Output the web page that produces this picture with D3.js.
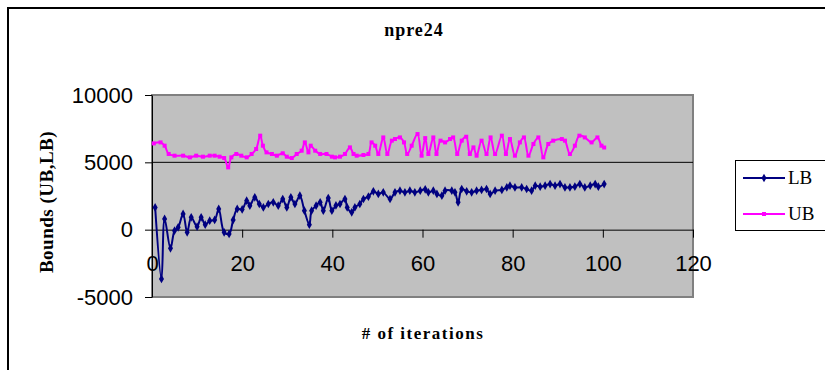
<!DOCTYPE html>
<html><head><meta charset="utf-8">
<script src="https://cdn.jsdelivr.net/npm/d3@7"></script>
<style>html,body{margin:0;padding:0;background:#fff}svg{display:block}</style>
</head><body><svg id="c" width="825" height="370"></svg>
<script>
const titleText = "npre24";
const xTitle = "# of iterations";
const yTitle = "Bounds (UB,LB)";
const xTicks = [0,20,40,60,80,100,120];
const yTicks = [-5000,0,5000,10000];
const seriesNames = ["LB","UB"];
const lbX = [0.7,2.1,2.8,4.1,5.0,5.8,6.9,7.8,8.7,10,10.9,11.8,12.8,13.9,14.8,16,17.1,18,18.9,20,21,21.7,22.8,23.8,24.7,25.8,26.9,28,29,29.9,30.8,31.7,32.8,33.8,34.9,35.4,36.4,37.3,38,39.1,39.9,40.8,41.7,42.8,43.3,44.3,45,46.1,46.9,48,49.1,50.2,51.3,52.8,53.9,55,56.1,57.2,58.3,59.5,60.6,61.3,62.4,63.2,64.3,65,66.5,67.2,67.9,68.7,69.8,70.9,72,73.1,74.2,75,76.1,77.6,78.7,79.4,80.5,82,83.1,84.2,85,86.1,87.2,88.3,89.4,90.5,91.6,92.7,93.8,94.9,96,97.2,98.3,99,100.3];
const lbY = [1655,-3660,794,-1385,-74,171,1165,-200,914,223,914,371,668,720,1536,-200,-320,720,1536,1500,2153,1782,2400,1906,1655,1906,2030,1782,2277,1655,2400,1906,2524,1410,371,1410,1782,2030,1410,2350,1410,1800,1906,2277,1655,1285,1655,1906,2277,2450,2844,2650,2770,2277,2770,2895,2770,2895,2770,2895,3000,2770,2895,2650,2524,2895,2895,2770,2030,3020,2844,2770,2895,2947,3020,2650,2895,2947,3140,3266,3140,3140,3020,2895,3266,3190,3266,3390,3266,3390,3140,3140,3190,3390,3140,3266,3390,3190,3390];
const ubX = [0.4,1.9,2.8,3.7,5.0,6.9,8.4,9.8,11.3,12.8,13.9,15,16,16.9,17.6,18.7,19.8,21,22.1,23.1,24,24.6,25.4,26.6,27.7,29,29.9,31,32.1,33.2,33.9,34.7,35.2,36.2,37.3,38.7,39.9,40.6,41.7,42.8,43.9,44.7,45.4,46.9,48,48.7,49.5,50.2,51.3,52.2,53.2,53.9,55,55.9,56.6,57.6,58.9,59.8,60.6,61.3,62.4,63.1,64,65,66.1,66.8,67.7,68.7,69.7,70.5,71.3,72,73.1,74.2,75.1,76.1,77.6,78.5,79.4,80.5,81.6,82.5,83.5,84.6,85.7,86.8,87.9,89,90.9,91.6,92.7,93.8,94.8,96,97.5,98.8,99.7,100.3];
const ubY = [6407,6481,6236,5620,5494,5494,5370,5494,5420,5494,5494,5420,5320,4625,5370,5620,5494,5370,5620,5990,6980,6236,5740,5620,5494,5670,5420,5320,5620,5865,6480,5740,6236,5865,5620,5620,5420,5370,5420,5620,6110,5620,5494,5545,5620,6480,6236,5620,6850,5620,6610,6730,6850,6480,5620,6236,7100,5494,6800,5620,6850,5620,6610,6480,6730,6850,5620,6610,6900,5620,6110,5494,6610,5620,6850,5620,6980,5620,6730,5494,6480,6850,5494,6360,6850,5370,6360,6610,6730,6610,5620,6236,6980,6850,6480,6850,6236,6100];

const svg = d3.select("#c");
const W = 825, H = 370;
const x = d3.scaleLinear().domain([0,120]).range([152,693]);
const y = d3.scaleLinear().domain([-5000,10000]).range([297,95]);
const serif = "'Liberation Serif','Times New Roman',serif";
const sans = "'Liberation Sans',Arial,sans-serif";

svg.append("rect").attr("width",W).attr("height",H).attr("fill","#fff");
svg.append("path").attr("d",`M8,${H+2}V8H${W+2}`).attr("fill","none").attr("stroke","#000").attr("stroke-width",2);

svg.append("rect").attr("x",x(0)).attr("y",y(10000)).attr("width",x(120)-x(0)).attr("height",y(-5000)-y(10000))
  .attr("fill","#c0c0c0").attr("stroke","#808080").attr("stroke-width",2);

svg.append("g").selectAll("line").data(yTicks.filter(v=>v>-5000 && v<10000 && v!==0)).join("line")
  .attr("x1",x(0)).attr("x2",x(120)).attr("y1",d=>y(d)).attr("y2",d=>y(d)).attr("stroke","#000").attr("stroke-width",1);

const ya = svg.append("g").attr("transform",`translate(${x(0)},0)`)
  .call(d3.axisLeft(y).tickValues(yTicks).tickFormat(d=>String(d)).tickSize(7).tickPadding(12).tickSizeOuter(0));
ya.select(".domain").attr("stroke","#000");
ya.selectAll("text").attr("font-family",sans).attr("font-size",22).attr("fill","#000");

const xa = svg.append("g").attr("transform",`translate(0,${y(0)})`)
  .call(d3.axisBottom(x).tickValues(xTicks).tickFormat(d=>String(d)).tickSize(8).tickPadding(0).tickSizeOuter(0));
xa.select(".domain").attr("stroke","#000");
xa.selectAll("text").attr("font-family",sans).attr("font-size",22).attr("fill","#000").attr("dy","1.5em");
xa.selectAll(".tick").filter(d=>d===0).select("line").remove();

const lbData = lbX.map((v,i)=>[v,lbY[i]]);
const ubData = ubX.map((v,i)=>[v,ubY[i]]);
const line = d3.line().x(d=>x(d[0])).y(d=>y(d[1])).curve(d3.curveCatmullRom.alpha(0.5));
const colors = {LB:"#000080", UB:"#ff00ff"};

svg.append("path").datum(ubData).attr("d",line).attr("fill","none").attr("stroke",colors.UB).attr("stroke-width",2);
svg.append("g").selectAll("rect").data(ubData).join("rect")
  .attr("x",d=>x(d[0])-2).attr("y",d=>y(d[1])-2).attr("width",4).attr("height",4).attr("fill",colors.UB);

svg.append("path").datum(lbData).attr("d",line).attr("fill","none").attr("stroke",colors.LB).attr("stroke-width",2);
svg.append("g").selectAll("path").data(lbData).join("path")
  .attr("d",d3.symbol().type(d3.symbolDiamond).size(22))
  .attr("transform",d=>`translate(${x(d[0])},${y(d[1])})`).attr("fill",colors.LB);

svg.append("text").attr("x",414).attr("y",36).attr("text-anchor","middle").attr("font-family",serif)
  .attr("font-weight","bold").attr("font-size",18).attr("letter-spacing",1).text(titleText);
svg.append("text").attr("x",423).attr("y",339).attr("text-anchor","middle").attr("font-family",serif)
  .attr("font-weight","bold").attr("font-size",17).attr("letter-spacing",1.5).text(xTitle);
svg.append("text").attr("transform","translate(53,202) rotate(-90)").attr("text-anchor","middle").attr("font-family",serif)
  .attr("font-weight","bold").attr("font-size",19).attr("letter-spacing",0.5).text(yTitle);

const lg = svg.append("g");
lg.append("rect").attr("x",735.5).attr("y",160.5).attr("width",100).attr("height",70).attr("fill","#fff").attr("stroke","#000").attr("stroke-width",1);
const ly = d3.scalePoint().domain(seriesNames).range([178,214]);
seriesNames.forEach(n=>{
  lg.append("line").attr("x1",743).attr("x2",785).attr("y1",ly(n)).attr("y2",ly(n)).attr("stroke",colors[n]).attr("stroke-width",2);
  if(n==="LB") lg.append("path").attr("d",d3.symbol().type(d3.symbolDiamond).size(22)).attr("transform",`translate(764,${ly(n)})`).attr("fill",colors[n]);
  else lg.append("rect").attr("x",762).attr("y",ly(n)-2).attr("width",4).attr("height",4).attr("fill",colors[n]);
  lg.append("text").attr("x",788).attr("y",ly(n)+6).attr("font-family",serif).attr("font-size",19).attr("fill","#000").text(n);
});
</script></body></html>
